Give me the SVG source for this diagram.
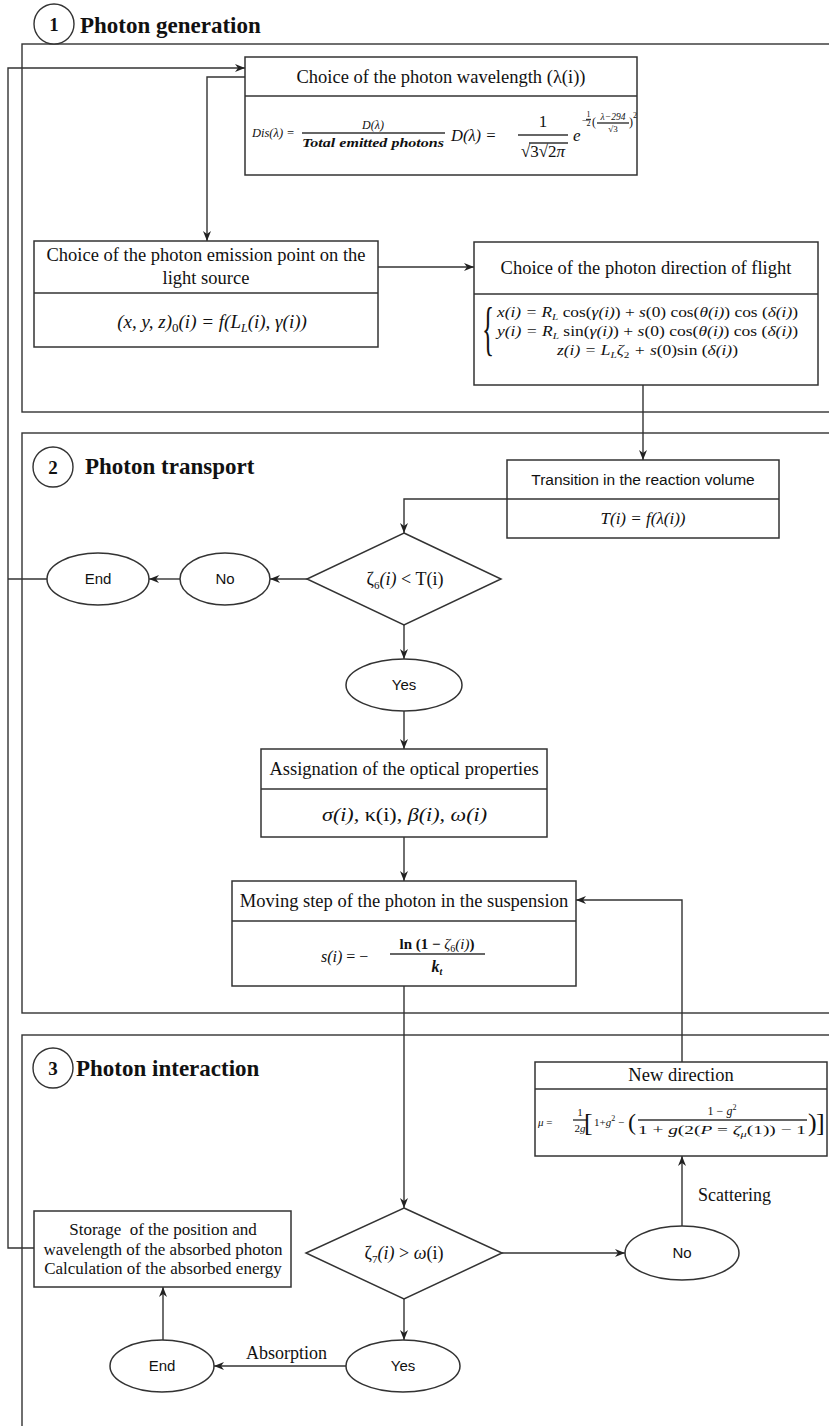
<svg xmlns="http://www.w3.org/2000/svg" width="829" height="1426" viewBox="0 0 829 1426">
<style>
.frame{fill:none;stroke:#333;stroke-width:1.4}
.box{fill:#fff;stroke:#333;stroke-width:1.5}
.div{stroke:#333;stroke-width:1.4}
.ln{fill:none;stroke:#333;stroke-width:1.4}
.arr{marker-end:url(#ah)}
.hd{font-family:"Liberation Serif","Times New Roman",serif;font-size:18.5px;fill:#111;text-anchor:middle}
.st{font-family:"Liberation Serif","Times New Roman",serif;font-size:17px;fill:#111;text-anchor:middle}
.sans{font-family:"Liberation Sans",Arial,sans-serif;font-size:15px;fill:#111;text-anchor:middle}
.m{font-family:"Liberation Serif","Times New Roman",serif;fill:#111}
.i{font-style:italic}
.n{font-style:normal}
.ttl{font-family:"Liberation Serif","Times New Roman",serif;font-weight:bold;font-size:23px;fill:#111}
.num{font-family:"Liberation Serif","Times New Roman",serif;font-weight:bold;font-size:19px;fill:#111;text-anchor:middle}
.lbl{font-family:"Liberation Serif","Times New Roman",serif;font-size:18px;fill:#111}
</style>
<defs>
<marker id="ah" viewBox="0 0 10 10" refX="10" refY="5" markerWidth="10" markerHeight="10" markerUnits="userSpaceOnUse" orient="auto">
<path d="M0,1 L10,5 L0,9 L3,5 z" fill="#222"/>
</marker>
</defs>
<rect width="829" height="1426" fill="#fff"/>

<g id="sections">
<rect class="frame" x="22" y="44" width="840" height="368"/>
<rect class="frame" x="22" y="433" width="840" height="580"/>
<rect class="frame" x="22" y="1035" width="840" height="420"/>
<circle cx="54" cy="24" r="20" fill="#fff" stroke="#333" stroke-width="1.4"/>
<text class="num" x="54" y="31">1</text>
<text class="ttl" x="80" y="33">Photon generation</text>
<circle cx="53" cy="467" r="20" fill="#fff" stroke="#333" stroke-width="1.4"/>
<text class="num" x="53" y="474">2</text>
<text class="ttl" x="85" y="474">Photon transport</text>
<circle cx="53" cy="1068" r="20" fill="#fff" stroke="#333" stroke-width="1.4"/>
<text class="num" x="53" y="1075">3</text>
<text class="ttl" x="76" y="1076">Photon interaction</text>
</g>

<g id="connectors">
<polyline class="ln arr" points="34,1248 8,1248 8,68 245,68"/>
<line class="ln" x1="47" y1="579" x2="8" y2="579"/>
<polyline class="ln arr" points="245,77 207,77 207,241"/>
<line class="ln arr" x1="378" y1="267" x2="474" y2="267"/>
<line class="ln arr" x1="643" y1="385" x2="643" y2="460"/>
<polyline class="ln arr" points="507,499 404,499 404,533"/>
<line class="ln arr" x1="307" y1="579" x2="270" y2="579"/>
<line class="ln arr" x1="180" y1="579" x2="149" y2="579"/>
<line class="ln arr" x1="404" y1="625" x2="404" y2="659"/>
<line class="ln arr" x1="404" y1="711" x2="404" y2="749"/>
<line class="ln arr" x1="404" y1="837" x2="404" y2="881"/>
<line class="ln arr" x1="404" y1="986" x2="404" y2="1208"/>
<line class="ln arr" x1="502" y1="1253" x2="625" y2="1253"/>
<line class="ln arr" x1="682" y1="1226" x2="682" y2="1156"/>
<polyline class="ln arr" points="682,1062 682,900 576,900"/>
<line class="ln arr" x1="404" y1="1299" x2="404" y2="1340"/>
<line class="ln arr" x1="346" y1="1366" x2="214" y2="1366"/>
<line class="ln arr" x1="163" y1="1340" x2="163" y2="1287"/>
<text class="lbl" x="698" y="1201">Scattering</text>
<text class="lbl" x="246" y="1359">Absorption</text>
</g>

<g id="wavelength">
<rect class="box" x="245" y="57" width="392" height="118"/>
<line class="div" x1="245" y1="96" x2="637" y2="96"/>
<text class="hd" x="441" y="83">Choice of the photon wavelength (λ(i))</text>
<text class="m i" x="252" y="137" font-size="12.5">Dis(λ) =</text>
<text class="m i" x="373" y="129" font-size="12" text-anchor="middle">D(λ)</text>
<line class="div" x1="302" y1="133" x2="445" y2="133" stroke-width="1"/>
<text class="m i" x="373" y="147" font-size="12.5" font-weight="bold" text-anchor="middle" textLength="142" lengthAdjust="spacingAndGlyphs">Total emitted photons</text>
<text class="m i" x="451" y="141" font-size="16.5">D(λ) =</text>
<text class="m" x="543" y="127" font-size="17" text-anchor="middle">1</text>
<line class="div" x1="518" y1="135" x2="568" y2="135" stroke-width="1"/>
<text class="m" x="543" y="157" font-size="17" text-anchor="middle">√3√2<tspan class="i">π</tspan></text>
<line class="div" x1="529" y1="143" x2="568" y2="143" stroke-width="0.9"/>
<text class="m i" x="573" y="141" font-size="17">e</text>
<text class="m" x="582" y="124" font-size="10">−</text>
<text class="m" x="588.5" y="117" font-size="8" text-anchor="middle">1</text>
<line class="div" x1="586" y1="119.5" x2="591" y2="119.5" stroke-width="0.6"/>
<text class="m" x="588.5" y="126" font-size="8" text-anchor="middle">2</text>
<text class="m" x="592" y="126" font-size="12">(</text>
<text class="m i" x="613" y="120" font-size="9.5" text-anchor="middle">λ−294</text>
<line class="div" x1="597" y1="123" x2="629" y2="123" stroke-width="0.6"/>
<text class="m" x="613" y="132" font-size="9" text-anchor="middle">√3</text>
<text class="m" x="629" y="126" font-size="12">)</text>
<text class="m" x="633" y="118" font-size="8">2</text>
</g>

<g id="emission">
<rect class="box" x="34" y="241" width="344" height="106"/>
<line class="div" x1="34" y1="293" x2="378" y2="293"/>
<text class="hd" x="206" y="261">Choice of the photon emission point on the</text>
<text class="hd" x="206" y="284">light source</text>
<text class="m i" x="212" y="328" font-size="19" text-anchor="middle">(x, y, z)<tspan class="n" font-size="13" dy="4">0</tspan><tspan dy="-4">(i) = f(L</tspan><tspan font-size="12" dy="4">L</tspan><tspan dy="-4">(i), γ(i))</tspan></text>
</g>

<g id="direction">
<rect class="box" x="474" y="242" width="344" height="143"/>
<line class="div" x1="474" y1="294" x2="818" y2="294"/>
<text class="hd" x="646" y="274">Choice of the photon direction of flight</text>
<text class="m" transform="translate(482,348) scale(0.42,1)" font-size="60">{</text>
<text class="m i" x="497" y="317" font-size="14" textLength="301" lengthAdjust="spacingAndGlyphs">x(i) =  R<tspan font-size="9" dy="3">L</tspan><tspan class="n" dy="-3"> cos(</tspan>γ(i)<tspan class="n">) + </tspan>s<tspan class="n">(0) cos(</tspan>θ(i)<tspan class="n">) cos (</tspan>δ(i)<tspan class="n">)</tspan></text>
<text class="m i" x="497" y="336" font-size="14" textLength="301" lengthAdjust="spacingAndGlyphs">y(i) =  R<tspan font-size="9" dy="3">L</tspan><tspan class="n" dy="-3"> sin(</tspan>γ(i)<tspan class="n">) + </tspan>s<tspan class="n">(0) cos(</tspan>θ(i)<tspan class="n">) cos (</tspan>δ(i)<tspan class="n">)</tspan></text>
<text class="m i" x="557" y="355" font-size="14" textLength="181" lengthAdjust="spacingAndGlyphs">z(i) = L<tspan font-size="9" dy="3">L</tspan><tspan dy="-3">ζ</tspan><tspan class="n" font-size="9" dy="3">2</tspan><tspan dy="-3"> + s</tspan><tspan class="n">(0)sin (</tspan>δ(i)<tspan class="n">)</tspan></text>
</g>

<g id="transition">
<rect class="box" x="507" y="460" width="272" height="78"/>
<line class="div" x1="507" y1="499" x2="779" y2="499"/>
<text class="sans" x="643" y="485" style="font-size:15.5px">Transition in the reaction volume</text>
<text class="m i" x="643" y="524" font-size="17" text-anchor="middle">T(i) = f(λ(i))</text>
</g>

<g id="decision1">
<polygon class="box" points="404,533 501,579 404,625 307,579"/>
<text class="m" x="405" y="585" font-size="18" text-anchor="middle">ζ<tspan font-size="11" dy="4">6</tspan><tspan class="i" dy="-4">(i)</tspan> &lt; T(i)</text>
</g>

<g id="no1">
<ellipse class="box" cx="225" cy="579" rx="45" ry="26"/>
<text class="sans" x="225" y="584">No</text>
</g>

<g id="end1">
<ellipse class="box" cx="98" cy="579" rx="51" ry="26"/>
<text class="sans" x="98" y="584">End</text>
</g>

<g id="yes1">
<ellipse class="box" cx="404" cy="685" rx="58" ry="26"/>
<text class="sans" x="404" y="690">Yes</text>
</g>

<g id="assignation">
<rect class="box" x="261" y="749" width="286" height="88"/>
<line class="div" x1="261" y1="789" x2="547" y2="789"/>
<text class="hd" x="404" y="775">Assignation of the optical properties</text>
<text class="m i" x="322" y="821" font-size="18" textLength="165" lengthAdjust="spacingAndGlyphs">σ(i), <tspan class="n">κ(i), </tspan>β(i), ω(i)</text>
</g>

<g id="moving">
<rect class="box" x="232" y="881" width="344" height="105"/>
<line class="div" x1="232" y1="921" x2="576" y2="921"/>
<text class="hd" x="404" y="907">Moving step of the photon in the suspension</text>
<text class="m i" x="321" y="962" font-size="16">s(i) <tspan class="n">=  −</tspan></text>
<text class="m" x="437" y="949" font-size="15" font-weight="bold" text-anchor="middle">ln (1 − <tspan class="i" font-weight="normal">ζ</tspan><tspan font-size="10" dy="3" font-weight="normal">6</tspan><tspan class="i" font-weight="normal" dy="-3">(i)</tspan>)</text>
<line class="div" x1="390" y1="954" x2="485" y2="954" stroke-width="1"/>
<text class="m i" x="437" y="972" font-size="16" font-weight="bold" text-anchor="middle">k<tspan font-size="10" dy="3">t</tspan></text>
</g>

<g id="newdirection">
<rect class="box" x="535" y="1062" width="292" height="94"/>
<line class="div" x1="535" y1="1089" x2="827" y2="1089"/>
<text class="hd" x="681" y="1081">New direction</text>
<text class="m i" x="538" y="1126" font-size="11">μ <tspan class="n">=</tspan></text>
<text class="m" x="580" y="1116" font-size="11" text-anchor="middle">1</text>
<line class="div" x1="573" y1="1120" x2="587" y2="1120" stroke-width="0.8"/>
<text class="m" x="580" y="1132" font-size="11" text-anchor="middle">2<tspan class="i">g</tspan></text>
<text class="m" x="584" y="1131" font-size="26">[</text>
<text class="m" x="594" y="1126" font-size="11">1+<tspan class="i">g</tspan><tspan font-size="8" dy="-5">2</tspan><tspan dy="5"> −</tspan></text>
<text class="m" x="628" y="1130" font-size="24">(</text>
<text class="m" x="722" y="1115" font-size="12" text-anchor="middle">1 − <tspan class="i">g</tspan><tspan font-size="8" dy="-5">2</tspan></text>
<line class="div" x1="638" y1="1120" x2="807" y2="1120" stroke-width="0.8"/>
<text class="m" x="638" y="1134" font-size="12.5" textLength="168" lengthAdjust="spacingAndGlyphs">1 + <tspan class="i">g</tspan>(2(<tspan class="i">P</tspan> = <tspan class="i">ζ</tspan><tspan class="i" font-size="8" dy="3">μ</tspan><tspan dy="-3">(1)) − 1</tspan></text>
<text class="m" x="808" y="1131" font-size="26">)</text>
<text class="m" x="816" y="1131" font-size="26">]</text>
</g>

<g id="decision2">
<polygon class="box" points="404,1208 502,1253 404,1299 306,1253"/>
<text class="m" x="404" y="1259" font-size="18" text-anchor="middle">ζ<tspan font-size="11" dy="4">7</tspan><tspan class="i" dy="-4">(i)</tspan> &gt; <tspan class="i">ω</tspan>(i)</text>
</g>

<g id="no2">
<ellipse class="box" cx="682" cy="1253" rx="57" ry="27"/>
<text class="sans" x="682" y="1258">No</text>
</g>

<g id="yes2">
<ellipse class="box" cx="403" cy="1366" rx="57" ry="26"/>
<text class="sans" x="403" y="1371">Yes</text>
</g>

<g id="end2">
<ellipse class="box" cx="162" cy="1366" rx="52" ry="26"/>
<text class="sans" x="162" y="1371">End</text>
</g>

<g id="storage">
<rect class="box" x="34" y="1211" width="257" height="76"/>
<text class="st" x="163" y="1235" xml:space="preserve">Storage  of the position and</text>
<text class="st" x="163" y="1255">wavelength of the absorbed photon</text>
<text class="st" x="163" y="1274">Calculation of the absorbed energy</text>
</g>
</svg>
